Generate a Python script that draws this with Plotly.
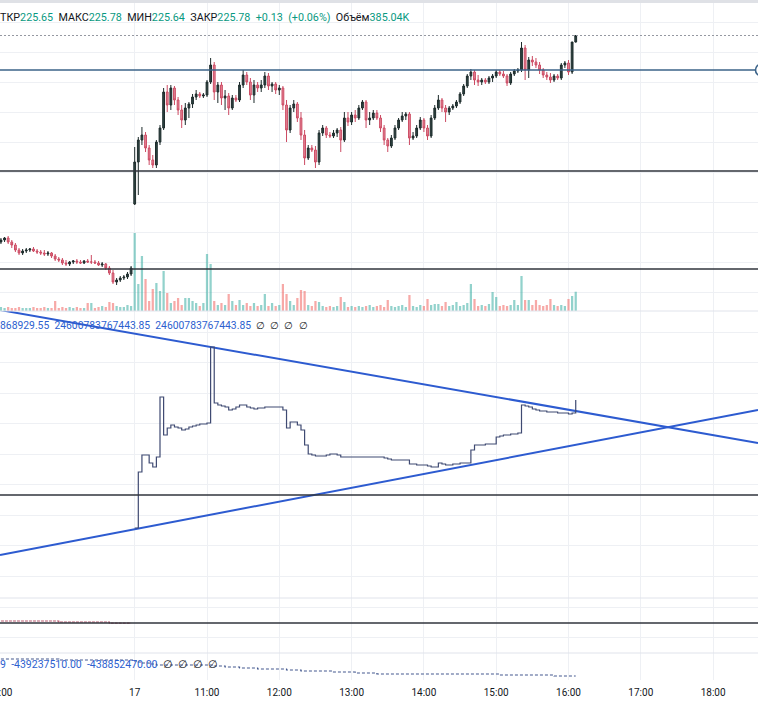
import plotly.graph_objects as go

# ---------------- data ----------------
# x axis: index of 3-minute bars; the session of the 17th starts at bar 0 (10:00)
prev_bars = list(range(-37, 0))
day_bars = list(range(0, 123))

prev_open = [221.65, 221.69, 221.73, 221.65, 221.59, 221.49, 221.43, 221.47, 221.49, 221.51,
             221.47, 221.45, 221.43, 221.41, 221.43, 221.37, 221.31, 221.29, 221.23, 221.21,
             221.25, 221.27, 221.25, 221.23, 221.27, 221.25, 221.25, 221.23, 221.19, 221.21,
             221.13, 221.03, 220.85, 220.89, 220.93, 220.95, 221.01]
prev_high = [221.73, 221.75, 221.77, 221.69, 221.63, 221.53, 221.51, 221.53, 221.53, 221.55,
             221.51, 221.49, 221.49, 221.47, 221.45, 221.41, 221.35, 221.33, 221.29, 221.27,
             221.29, 221.31, 221.29, 221.29, 221.31, 221.39, 221.29, 221.27, 221.25, 221.23,
             221.17, 221.09, 220.93, 220.97, 220.99, 221.05, 221.17]
prev_low = [221.61, 221.65, 221.61, 221.53, 221.45, 221.39, 221.39, 221.43, 221.45, 221.45,
            221.41, 221.39, 221.37, 221.37, 221.33, 221.27, 221.25, 221.19, 221.17, 221.17,
            221.21, 221.21, 221.21, 221.21, 221.23, 221.21, 221.21, 221.17, 221.15, 221.09,
            220.99, 220.81, 220.79, 220.85, 220.89, 220.91, 220.97]
prev_close = [221.69, 221.73, 221.65, 221.59, 221.49, 221.43, 221.47, 221.49, 221.51, 221.47,
              221.45, 221.43, 221.41, 221.43, 221.37, 221.31, 221.29, 221.23, 221.21, 221.25,
              221.27, 221.25, 221.23, 221.27, 221.25, 221.25, 221.23, 221.19, 221.21, 221.13,
              221.03, 220.85, 220.89, 220.93, 220.95, 221.01, 221.13]

day_open = [222.41, 223.25, 223.69, 223.79, 223.53, 223.29, 223.19, 223.65, 223.93, 224.65,
            224.39, 224.73, 224.49, 224.29, 224.09, 224.33, 224.41, 224.55, 224.61, 224.57,
            224.59, 224.85, 225.19, 224.65, 224.79, 224.53, 224.57, 224.33, 224.53, 224.49,
            224.79, 224.99, 224.85, 224.59, 224.79, 224.73, 224.79, 224.97, 224.77, 224.81,
            224.69, 224.73, 224.39, 223.89, 224.33, 224.41, 224.13, 223.79, 223.33, 223.53,
            223.49, 223.25, 223.83, 223.93, 223.79, 223.77, 223.83, 223.89, 223.69, 224.13,
            224.05, 224.19, 224.13, 224.33, 224.45, 224.09, 224.13, 224.23, 224.13, 223.93,
            223.69, 223.57, 223.73, 223.93, 224.09, 224.17, 224.21, 223.73, 223.77, 223.93,
            224.09, 223.93, 223.77, 224.13, 224.33, 224.49, 224.33, 224.25, 224.33, 224.37,
            224.45, 224.61, 224.77, 224.97, 225.05, 224.89, 224.85, 224.89, 224.85, 224.93,
            224.97, 225.05, 225.01, 224.97, 224.83, 225.01, 225.07, 225.09, 225.53, 225.09,
            225.29, 225.25, 225.19, 225.09, 224.99, 224.95, 224.89, 224.97, 224.93, 225.19,
            225.23, 225.05, 225.65]
day_high = [223.55, 223.75, 223.95, 223.85, 223.59, 223.39, 223.69, 223.99, 224.73, 224.79,
            224.79, 224.77, 224.55, 224.39, 224.43, 224.45, 224.61, 224.69, 224.65, 224.63,
            224.89, 225.33, 225.25, 224.85, 224.85, 224.69, 224.63, 224.59, 224.59, 224.85,
            225.09, 225.05, 224.93, 224.89, 224.85, 224.89, 225.05, 225.03, 224.85, 224.85,
            224.79, 224.77, 224.49, 224.39, 224.49, 224.45, 224.25, 223.89, 223.59, 223.59,
            223.57, 223.89, 223.99, 223.97, 223.85, 223.89, 223.93, 223.95, 224.25, 224.25,
            224.25, 224.29, 224.39, 224.49, 224.49, 224.25, 224.29, 224.29, 224.19, 223.99,
            223.73, 223.79, 223.99, 224.13, 224.25, 224.25, 224.25, 223.85, 223.99, 224.15,
            224.13, 223.99, 224.19, 224.39, 224.59, 224.53, 224.39, 224.37, 224.41, 224.49,
            224.65, 224.81, 225.01, 225.11, 225.09, 224.99, 224.93, 224.93, 224.97, 225.01,
            225.09, 225.09, 225.07, 225.01, 225.05, 225.11, 225.13, 225.65, 225.59, 225.35,
            225.37, 225.33, 225.25, 225.13, 225.05, 225.03, 225.01, 225.01, 225.23, 225.27,
            225.29, 225.65, 225.78]
day_low = [222.39, 222.59, 223.59, 223.45, 223.19, 223.13, 223.13, 223.59, 223.89, 224.25,
           224.29, 224.39, 224.19, 223.93, 223.99, 224.13, 224.33, 224.49, 224.53, 224.53,
           224.55, 224.81, 224.49, 224.43, 224.39, 224.29, 224.19, 224.29, 224.45, 224.45,
           224.73, 224.79, 224.49, 224.43, 224.65, 224.65, 224.73, 224.69, 224.65, 224.61,
           224.59, 224.29, 223.65, 223.83, 224.25, 224.05, 223.69, 223.19, 223.29, 223.45,
           223.13, 223.19, 223.77, 223.73, 223.73, 223.73, 223.75, 223.45, 223.65, 223.97,
           223.99, 224.05, 224.09, 224.29, 223.93, 223.99, 224.09, 224.09, 223.85, 223.59,
           223.45, 223.53, 223.69, 223.89, 224.05, 224.09, 223.59, 223.69, 223.73, 223.89,
           223.85, 223.69, 223.73, 224.09, 224.29, 224.25, 224.05, 224.19, 224.29, 224.33,
           224.41, 224.57, 224.73, 224.89, 224.79, 224.77, 224.79, 224.81, 224.81, 224.85,
           224.93, 224.97, 224.93, 224.77, 224.79, 224.97, 225.03, 225.05, 224.89, 224.93,
           225.17, 225.13, 225.01, 224.93, 224.89, 224.83, 224.85, 224.89, 224.89, 225.13,
           224.99, 225.01, 225.64]
day_close = [223.25, 223.69, 223.79, 223.53, 223.29, 223.19, 223.65, 223.93, 224.65, 224.39,
             224.73, 224.49, 224.29, 224.09, 224.33, 224.41, 224.55, 224.61, 224.57, 224.59,
             224.85, 225.19, 224.65, 224.79, 224.53, 224.57, 224.33, 224.53, 224.49, 224.79,
             224.99, 224.85, 224.59, 224.79, 224.73, 224.79, 224.97, 224.77, 224.81, 224.69,
             224.73, 224.39, 223.89, 224.33, 224.41, 224.13, 223.79, 223.33, 223.53, 223.49,
             223.25, 223.83, 223.93, 223.79, 223.77, 223.83, 223.89, 223.69, 224.13, 224.05,
             224.19, 224.13, 224.33, 224.45, 224.09, 224.13, 224.23, 224.13, 223.93, 223.69,
             223.57, 223.73, 223.93, 224.09, 224.17, 224.21, 223.73, 223.77, 223.93, 224.09,
             223.93, 223.77, 224.13, 224.33, 224.49, 224.33, 224.25, 224.33, 224.37, 224.45,
             224.61, 224.77, 224.97, 225.05, 224.89, 224.85, 224.89, 224.85, 224.93, 224.97,
             225.05, 225.01, 224.97, 224.83, 225.01, 225.07, 225.09, 225.53, 225.09, 225.29,
             225.25, 225.19, 225.09, 224.99, 224.95, 224.89, 224.97, 224.93, 225.19, 225.23,
             225.05, 225.65, 225.78]

# volume, thousands of shares
prev_volume = [80, 60, 80, 60, 60, 80, 60, 60, 60, 80,
               60, 60, 80, 60, 60, 200, 60, 80, 60, 80,
               60, 80, 60, 60, 160, 160, 60, 80, 100, 80,
               180, 160, 100, 80, 80, 120, 100]
day_volume = [1560, 540, 1100, 640, 200, 440, 560, 400, 800, 360,
              160, 200, 260, 120, 260, 260, 200, 160, 100, 160,
              1140, 940, 200, 120, 160, 120, 340, 200, 120, 220,
              120, 160, 100, 160, 100, 120, 340, 100, 160, 100,
              120, 540, 340, 200, 120, 260, 420, 400, 120, 100,
              200, 180, 100, 80, 100, 80, 100, 280, 180, 80,
              100, 80, 100, 80, 100, 120, 80, 100, 120, 80,
              220, 100, 80, 100, 120, 80, 320, 100, 80, 120,
              100, 240, 120, 140, 140, 100, 180, 100, 120, 180,
              100, 120, 160, 540, 240, 100, 120, 100, 140, 380,
              280, 100, 120, 100, 120, 220, 120, 700, 220, 220,
              120, 220, 120, 100, 120, 240, 120, 100, 120, 100,
              240, 300, 385.04]

# price levels drawn on the chart
level_blue = 225.09
level_black_1 = 223.07
level_black_2 = 221.11

# second pane: cumulative indicator (step line) and two trend lines
ind_step = [7.2, 12.8, 14.5, 14.5, 13.7, 13.3, 14.3, 20.3, 16.5, 17.2,
            17.5, 17.3, 17.2, 17.0, 17.1, 17.3, 17.4, 17.5, 17.6, 17.6,
            17.7, 25.3, 19.7, 19.5, 19.4, 19.3, 19.0, 19.1, 19.3, 19.5,
            19.5, 19.3, 19.2, 19.1, 19.2, 19.2, 19.3, 19.3, 19.3, 19.3,
            19.3, 19.0, 17.2, 17.8, 17.8, 17.5, 17.0, 15.5, 14.6, 14.5,
            14.4, 14.4, 14.4, 14.5, 14.6, 14.6, 14.5, 14.3, 14.3, 14.3,
            14.3, 14.3, 14.3, 14.3, 14.3, 14.3, 14.3, 14.3, 14.3, 14.2,
            14.1, 14.0, 14.0, 14.0, 14.0, 14.0, 13.6, 13.6, 13.5, 13.5,
            13.5, 13.4, 13.3, 13.3, 13.7, 13.6, 13.5, 13.5, 13.6, 13.6,
            13.7, 13.7, 13.7, 15.0, 15.5, 15.5, 15.5, 15.6, 15.6, 15.6,
            16.3, 16.4, 16.5, 16.5, 16.6, 16.6, 16.7, 19.5, 19.4, 19.3,
            19.1, 19.0, 18.9, 18.9, 18.8, 18.8, 18.8, 18.7, 18.7, 18.7,
            18.6, 18.7, 20.0]
trend_x = [-37.26, 172.42]
trend_upper = [29.0, 15.7]
trend_lower = [4.5, 19.0]
level_pane2 = 10.5

# third pane (previous day only)
ind3_prev = [19, 19, 19, 19, 19, 19, 19, 19, 19, 19,
             19, 19, 19, 19, 19, 19, 18, 18, 18, 18,
             18, 18, 18, 18, 18, 18, 18, 18, 18, 18,
             16.8, 16.8, 16.8, 16.8, 16.8, 16.8, 16.8]
level_pane3 = 17

# fourth pane
ind4_prev = [21, 21, 21, 21, 21, 21, 21, 21, 21, 21,
             21, 21, 21, 21, 21, 21, 20, 20, 20, 20,
             20, 20, 20, 20, 20, 20, 20, 20, 20, 20,
             20, 20, 20, 20, 20, 20, 20]
ind4_day = [19, 18, 17, 17, 16, 16, 15, 15, 15, 15,
            15, 15, 15, 15, 15, 15, 15, 15, 15, 15,
            15, 15, 14, 14, 14, 13, 13, 13, 13, 12,
            12, 12, 12, 12, 11, 11, 11, 11, 11, 11,
            11, 11, 10, 10, 10, 10, 9, 9, 9, 9,
            9, 9, 9, 9, 9, 8, 8, 8, 8, 8,
            8, 7, 7, 7, 7, 7, 7, 6, 6, 6,
            6, 6, 6, 6, 6, 6, 6, 6, 6, 6,
            6, 6, 6, 6, 6, 6, 6, 6, 6, 6,
            6, 6, 6, 6, 6, 6, 6, 6, 6, 6,
            6, 5, 5, 5, 5, 5, 5, 5, 5, 5,
            5, 5, 5, 5, 5, 5, 4, 4, 4, 4,
            4, 4, 4]

tick_vals = [-37.26, 0, 20, 40, 60, 80, 100, 120, 140, 160]
tick_text = ["22:00", "17", "11:00", "12:00", "13:00", "14:00", "15:00", "16:00", "17:00", "18:00"]

legend2_values = ["868929.55", "24600783767443.85", "24600783767443.85"]
legend4_values = ["9", "-439237510.00", "-438852470.00"]

for arr in (prev_open, prev_high, prev_low, prev_close, prev_volume, ind3_prev, ind4_prev):
    assert len(arr) == len(prev_bars), len(arr)
for arr in (day_open, day_high, day_low, day_close, day_volume, ind_step, ind4_day):
    assert len(arr) == len(day_bars), len(arr)

# ---------------- figure ----------------
FONT = "Roboto, 'Liberation Sans', sans-serif"
TXT = "#131722"
GRID = "#eef0f4"
PLOT_H = 680.0


def py(p):
    """pixel row (from top of plot area) -> paper fraction"""
    return (PLOT_H - p) / PLOT_H


x_all = prev_bars + day_bars
o_all = prev_open + day_open
h_all = prev_high + day_high
l_all = prev_low + day_low
c_all = prev_close + day_close
v_all = prev_volume + day_volume
vol_colors = ["rgba(38,166,154,0.5)" if c >= o else "rgba(239,83,80,0.5)" for o, c in zip(o_all, c_all)]

fig = go.Figure()
fig.add_trace(go.Bar(x=x_all, y=v_all, width=0.62, marker=dict(color=vol_colors, line=dict(width=0)),
                     xaxis="x", yaxis="y", hoverinfo="skip"))
fig.add_trace(go.Candlestick(x=x_all, open=o_all, high=h_all, low=l_all, close=c_all,
                             xaxis="x", yaxis="y2", whiskerwidth=0,
                             increasing=dict(line=dict(color="#1d2b2b", width=1), fillcolor="#2e4543"),
                             decreasing=dict(line=dict(color="#cc4b63", width=1), fillcolor="#e48698"),
                             hoverinfo="skip"))
for tv in (trend_upper, trend_lower):
    fig.add_trace(go.Scatter(x=trend_x, y=tv, mode="lines", line=dict(color="#2d5bd0", width=2),
                             xaxis="x", yaxis="y3", hoverinfo="skip"))
fig.add_trace(go.Scatter(x=day_bars, y=ind_step, mode="lines",
                         line=dict(shape="hv", color="#3f4a72", width=1.2),
                         xaxis="x", yaxis="y3", hoverinfo="skip"))
fig.add_trace(go.Scatter(x=prev_bars, y=ind3_prev, mode="lines",
                         line=dict(shape="hv", color="#b85a70", width=1.2, dash="3px,1px"),
                         xaxis="x", yaxis="y4", hoverinfo="skip"))
fig.add_trace(go.Scatter(x=x_all, y=ind4_prev + ind4_day, mode="lines",
                         line=dict(shape="hv", color="#44598f", width=1.2, dash="3px,2px"),
                         xaxis="x", yaxis="y5", hoverinfo="skip"))

shapes = []
# top strip
shapes.append(dict(type="rect", xref="paper", yref="paper", x0=0, x1=1, y0=py(3), y1=1,
                   fillcolor="#dfe1e6", line=dict(width=0), layer="above"))
# pane separators
for sep in (311, 598, 653):
    shapes.append(dict(type="line", xref="paper", yref="paper", x0=0, x1=1, y0=py(sep), y1=py(sep),
                       line=dict(color="#e0e3eb", width=1)))
# last price line
shapes.append(dict(type="line", xref="paper", yref="y2", x0=0, x1=1, y0=day_close[-1], y1=day_close[-1],
                   line=dict(color="#9598a1", width=1, dash="2px,2px")))
shapes.append(dict(type="line", xref="paper", yref="y2", x0=0, x1=1, y0=level_blue, y1=level_blue,
                   line=dict(color="#3b6389", width=1.6)))
for lv in (level_black_1, level_black_2):
    shapes.append(dict(type="line", xref="paper", yref="y2", x0=0, x1=1, y0=lv, y1=lv,
                       line=dict(color="#30343c", width=1.4)))
shapes.append(dict(type="line", xref="paper", yref="y3", x0=0, x1=1, y0=level_pane2, y1=level_pane2,
                   line=dict(color="#30343c", width=1.4)))
shapes.append(dict(type="line", xref="paper", yref="y4", x0=0, x1=1, y0=level_pane3, y1=level_pane3,
                   line=dict(color="#30343c", width=1.4)))
# handle of the horizontal line drawing at the right edge
shapes.append(dict(type="circle", xref="paper", yref="y2", x0=755.5 / 758, x1=767.5 / 758,
                   y0=level_blue - 0.12, y1=level_blue + 0.12,
                   fillcolor="white", line=dict(color="#3b6389", width=1.6)))

# legends
o, h, l, c = day_open[-1], day_high[-1], day_low[-1], day_close[-1]
chg = c - day_close[-2]
pct = chg / day_close[-2] * 100
G = "#089981"
sp = "\u00a0\u00a0"


def lab(t):
    return f'<span style="color:{TXT}">{t}</span>'


def val(t, col=G):
    return f'<span style="color:{col}">{t}</span>'


top_text = (lab("ТКР") + val(f"{o:.2f}") + sp + lab("МАКС") + val(f"{h:.2f}") + sp +
            lab("МИН") + val(f"{l:.2f}") + sp + lab("ЗАКР") + val(f"{c:.2f}") + sp +
            val(f"{chg:+.2f}") + sp + val(f"({pct:+.2f}%)") + sp + lab("Объём") +
            val(f"{day_volume[-1]:.2f}K"))
B = "#2d5fcf"
empty = sp.join([lab("∅")] * 4)
leg2 = sp.join(val(v, B) for v in legend2_values) + sp + empty
leg4 = sp.join(val(v, B) for v in legend4_values) + sp + empty

annotations = [
    dict(text=top_text, xref="paper", yref="paper", x=-2 / 758, y=py(17.5), xanchor="left",
         yanchor="middle", showarrow=False, font=dict(family=FONT, size=10.75)),
    dict(text=leg2, xref="paper", yref="paper", x=-2 / 758, y=py(325.5), xanchor="left",
         yanchor="middle", showarrow=False, font=dict(family=FONT, size=10.35)),
    dict(text=leg4, xref="paper", yref="paper", x=-2.5 / 758, y=py(664), xanchor="left",
         yanchor="middle", showarrow=False, font=dict(family=FONT, size=10.5)),
]

fig.update_layout(
    width=758, height=705,
    margin=dict(l=0, r=0, t=0, b=25, autoexpand=False),
    paper_bgcolor="white", plot_bgcolor="white",
    showlegend=False,
    font=dict(family=FONT, color=TXT),
    xaxis=dict(range=[-37.26, 172.42], anchor="y5", tickvals=tick_vals, ticktext=tick_text,
               showgrid=True, gridcolor=GRID, gridwidth=1, zeroline=False, showline=False,
               ticks="outside", ticklen=3, tickcolor="rgba(0,0,0,0)",
               tickfont=dict(size=10, color=TXT, family=FONT), automargin=False,
               ticklabeloverflow="allow", rangeslider=dict(visible=False), fixedrange=True),
    yaxis=dict(domain=[py(311), 1], range=[0, 6220], showgrid=True, gridcolor=GRID,
               tick0=380, dtick=600, showticklabels=False, zeroline=False, ticks="", fixedrange=True),
    yaxis2=dict(overlaying="y", range=[220.27, 226.49], showgrid=False, showticklabels=False,
                zeroline=False, ticks="", fixedrange=True),
    yaxis3=dict(domain=[py(598), py(311)], range=[0.2, 28.9], showgrid=True, gridcolor=GRID,
                tick0=2.4, dtick=3.05, showticklabels=False, zeroline=False, ticks="", fixedrange=True),
    yaxis4=dict(domain=[py(653), py(598)], range=[-13, 42], showgrid=True, gridcolor=GRID,
                tick0=3, dtick=30, showticklabels=False, zeroline=False, ticks="", fixedrange=True),
    yaxis5=dict(domain=[0, py(653)], range=[0, 27], showgrid=False, showticklabels=False,
                zeroline=False, ticks="", fixedrange=True),
    shapes=shapes,
    annotations=annotations,
)

page_css = ("var s=document.createElement('style');"
            "s.innerHTML='html,body{margin:0!important;padding:0!important;overflow:hidden!important;}';"
            "document.head.appendChild(s);")
fig.write_html("out.html", config={"displayModeBar": False, "responsive": False},
               post_script=page_css)
